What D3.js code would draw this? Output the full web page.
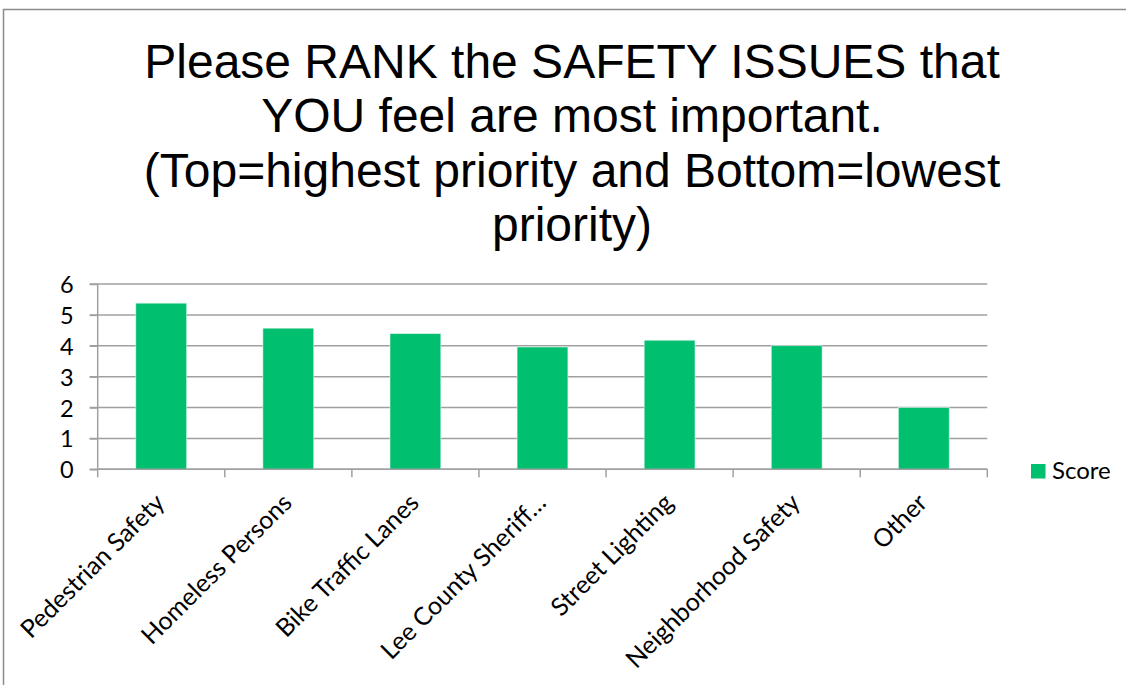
<!DOCTYPE html>
<html>
<head>
<meta charset="utf-8">
<script src="https://cdn.jsdelivr.net/npm/d3@7"></script>
<style>
  html, body { margin: 0; padding: 0; background: #fff; }
  svg { display: block; }
</style>
</head>
<body>
<svg id="chart" width="1126" height="685"></svg>
<script>
const titleLines = [
  "Please RANK the SAFETY ISSUES that",
  "YOU feel are most important.",
  "(Top=highest priority and Bottom=lowest",
  "priority)"
];
const categories = [
  "Pedestrian Safety",
  "Homeless Persons",
  "Bike Traffic Lanes",
  "Lee County Sheriff\u2026",
  "Street Lighting",
  "Neighborhood Safety",
  "Other"
];
const scores = [5.38, 4.57, 4.39, 3.96, 4.18, 4.0, 2.0];
const yTicks = [0, 1, 2, 3, 4, 5, 6];
const seriesName = "Score";

const svg = d3.select("#chart");
const W = 1126, H = 685;
const plot = { left: 97.7, right: 987.3, top: 284, bottom: 469.3 };
const green = "#00bf6f";
const grid = "#a0a0a0";
const labelFont = "Lato, 'Open Sans', sans-serif";

// outer frame (partial, as in reference)
svg.append("path")
  .attr("d", `M3.5,${H} L3.5,9.5 L${W},9.5`)
  .attr("fill", "none").attr("stroke", "#8c8c8c").attr("stroke-width", 1.5);

// title
const title = svg.append("text")
  .attr("text-anchor", "middle")
  .attr("font-family", "'Liberation Sans', Arial, sans-serif")
  .attr("font-size", 48)
  .attr("fill", "#000");
titleLines.forEach((t, i) => {
  title.append("tspan").attr("x", 572).attr("y", 78 + i * 54.3).text(t);
});

const x = d3.scaleBand().domain(categories).range([plot.left, plot.right]).paddingInner(0.6).paddingOuter(0.3);
const xStep = d3.scaleBand().domain(categories).range([plot.left, plot.right]);
const y = d3.scaleLinear().domain([0, 6]).range([plot.bottom, plot.top]);

// gridlines
svg.append("g")
  .selectAll("line").data(yTicks).join("line")
  .attr("x1", plot.left - 8).attr("x2", plot.right)
  .attr("y1", d => y(d)).attr("y2", d => y(d))
  .attr("stroke", grid).attr("stroke-width", 1.5);

// bars
svg.append("g")
  .selectAll("rect").data(scores).join("rect")
  .attr("x", (d, i) => x(categories[i]))
  .attr("width", x.bandwidth())
  .attr("y", d => y(d))
  .attr("height", d => y(0) - y(d))
  .attr("fill", green)
  .attr("stroke", "#d9f5e8").attr("stroke-width", 0.6);

// y axis
const yAxis = svg.append("g").attr("transform", `translate(${plot.left},0)`)
  .call(d3.axisLeft(y).tickValues(yTicks).tickSize(8).tickPadding(16).tickFormat(d3.format("d")));
yAxis.select(".domain").attr("stroke", grid).attr("stroke-width", 1.5).attr("d", `M0,${plot.top}V${plot.bottom}`);
yAxis.selectAll(".tick line").attr("stroke", grid).attr("stroke-width", 1.5);
yAxis.selectAll(".tick text").attr("font-family", labelFont).attr("font-size", 23.5).attr("fill", "#000").attr("dy", "0.36em");

// x axis
const bounds = categories.map(c => xStep(c)).concat([plot.right]);
const xAxis = svg.append("g");
xAxis.append("line")
  .attr("x1", plot.left).attr("x2", plot.right)
  .attr("y1", plot.bottom).attr("y2", plot.bottom)
  .attr("stroke", grid).attr("stroke-width", 1.5);
xAxis.selectAll("line.tk").data(bounds).join("line").attr("class", "tk")
  .attr("x1", d => d).attr("x2", d => d)
  .attr("y1", plot.bottom).attr("y2", plot.bottom + 8)
  .attr("stroke", grid).attr("stroke-width", 1.5);
xAxis.selectAll("text").data(categories).join("text")
  .attr("transform", d => `translate(${xStep(d) + xStep.bandwidth() / 2 + 5},${plot.bottom + 35}) rotate(-45)`)
  .attr("text-anchor", "end")
  .attr("font-family", labelFont).attr("font-size", 25).attr("fill", "#000")
  .text(d => d);

// legend
const lg = svg.append("g");
lg.append("rect").attr("x", 1031).attr("y", 464).attr("width", 14.5).attr("height", 14.5).attr("fill", green);
lg.append("text").attr("x", 1052).attr("y", 479)
  .attr("font-family", labelFont).attr("font-size", 24).attr("fill", "#000")
  .text(seriesName);
</script>
</body>
</html>
